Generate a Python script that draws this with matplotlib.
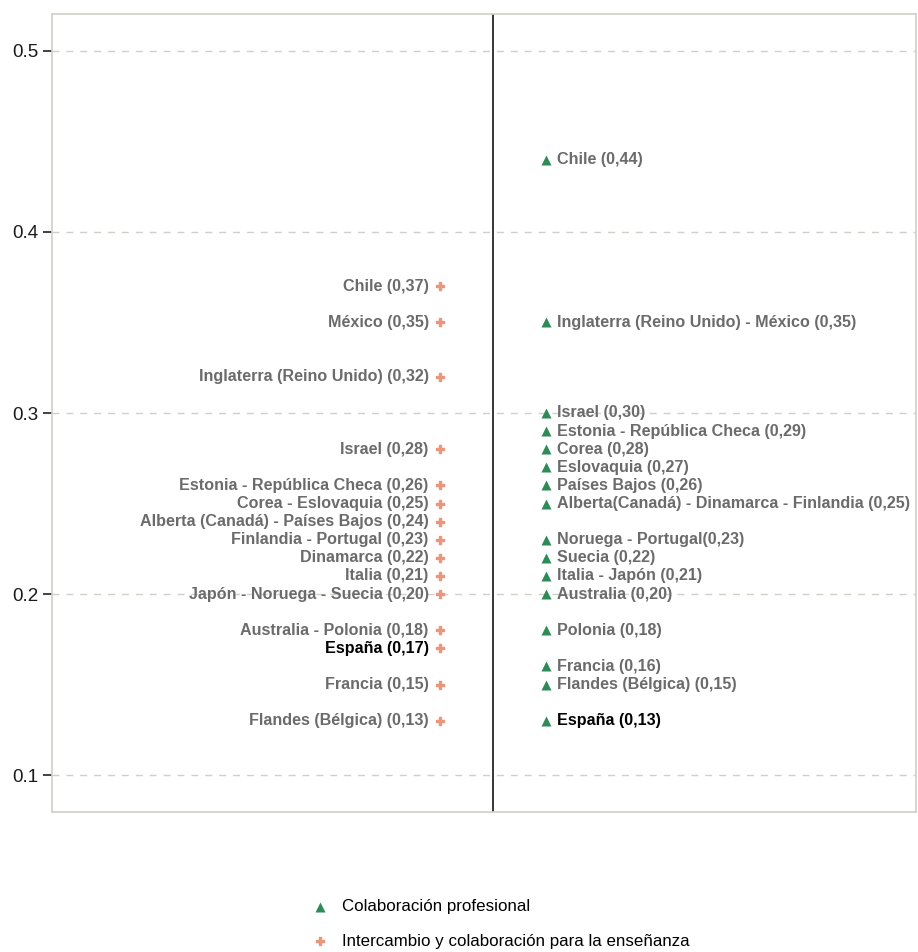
""" Colaboración docente: puntuaciones por país """
from matplotlib import pyplot as plt

plt.rcParams["font.family"] = ["Liberation Sans", "DejaVu Sans"]

# Intercambio y colaboración para la enseñanza (izquierda)
left_names = ["Chile", "México", "Inglaterra (Reino Unido)", "Israel",
              "Estonia - República Checa", "Corea - Eslovaquia",
              "Alberta (Canadá) - Países Bajos", "Finlandia - Portugal",
              "Dinamarca", "Italia", "Japón - Noruega - Suecia",
              "Australia - Polonia", "España", "Francia", "Flandes (Bélgica)"]
left_vals = [0.37, 0.35, 0.32, 0.28, 0.26, 0.25, 0.24, 0.23,
             0.22, 0.21, 0.20, 0.18, 0.17, 0.15, 0.13]

# Colaboración profesional (derecha)
right_names = ["Chile ", "Inglaterra (Reino Unido) - México ", "Israel ",
               "Estonia - República Checa ", "Corea ", "Eslovaquia ",
               "Países Bajos ", "Alberta(Canadá) - Dinamarca - Finlandia ",
               "Noruega - Portugal", "Suecia ", "Italia - Japón ",
               "Australia ", "Polonia ", "Francia ", "Flandes (Bélgica) ",
               "España "]
right_vals = [0.44, 0.35, 0.30, 0.29, 0.28, 0.27, 0.26, 0.25,
              0.23, 0.22, 0.21, 0.20, 0.18, 0.16, 0.15, 0.13]

y_ticks = [0.1, 0.2, 0.3, 0.4, 0.5]

green = "#2e8b57"
salmon = "#e9967a"
grey = "#6b6b6b"
frame = "#d0d0c8"

fig = plt.figure(figsize=(9.18, 9.52), dpi=100)
ax = fig.add_axes([52 / 918, 140 / 952, 864 / 918, 798 / 952])

x_left, x_right, x_mid = 0.449, 0.572, 0.510

ax.scatter([x_left] * len(left_vals), left_vals, marker="P", s=40,
           color=salmon, edgecolors=salmon, linewidths=1.0, zorder=3,
           label="Intercambio y colaboración para la enseñanza")
ax.scatter([x_right] * len(right_vals), right_vals, marker="^", s=52,
           color=green, linewidths=0, zorder=3,
           label="Colaboración profesional")

def fmt(v):
    return "(" + f"{v:.2f}".replace(".", ",") + ")"

for name, v in zip(left_names, left_vals):
    c = "black" if name.startswith("España") else grey
    ax.text(x_left - 0.013, v, f"{name} {fmt(v)}", ha="right", va="center",
            fontsize=11.6, color=c, fontweight="bold")
for name, v in zip(right_names, right_vals):
    c = "black" if name.startswith("España") else grey
    ax.text(x_right + 0.012, v, f"{name}{fmt(v)}", ha="left", va="center",
            fontsize=11.6, color=c, fontweight="bold")

ax.axvline(x_mid, color="black", linewidth=1.1, zorder=2)

ax.set_xlim(0, 1)
ax.set_ylim(0.0796, 0.5204)
ax.set_xticks([])
ax.set_yticks(y_ticks)
ax.set_yticklabels([str(t) for t in y_ticks])
ax.tick_params(axis="y", length=6.5, width=1.2, labelsize=13.5, color="#222222",
               labelcolor="#1a1a1a", pad=3)
ax.yaxis.grid(True, linestyle=(0, (5, 5)), color=frame, linewidth=1)
ax.set_axisbelow(True)
for s in ax.spines.values():
    s.set_color(frame)
    s.set_linewidth(1.2)

handles, labels = ax.get_legend_handles_labels()
fig.legend(handles[::-1], labels[::-1], loc="upper left",
           bbox_to_anchor=(288 / 918, 1 - 884 / 952), frameon=False,
           fontsize=12.2, labelspacing=1.15, handletextpad=0.3)

plt.savefig("out.png", dpi=100)
